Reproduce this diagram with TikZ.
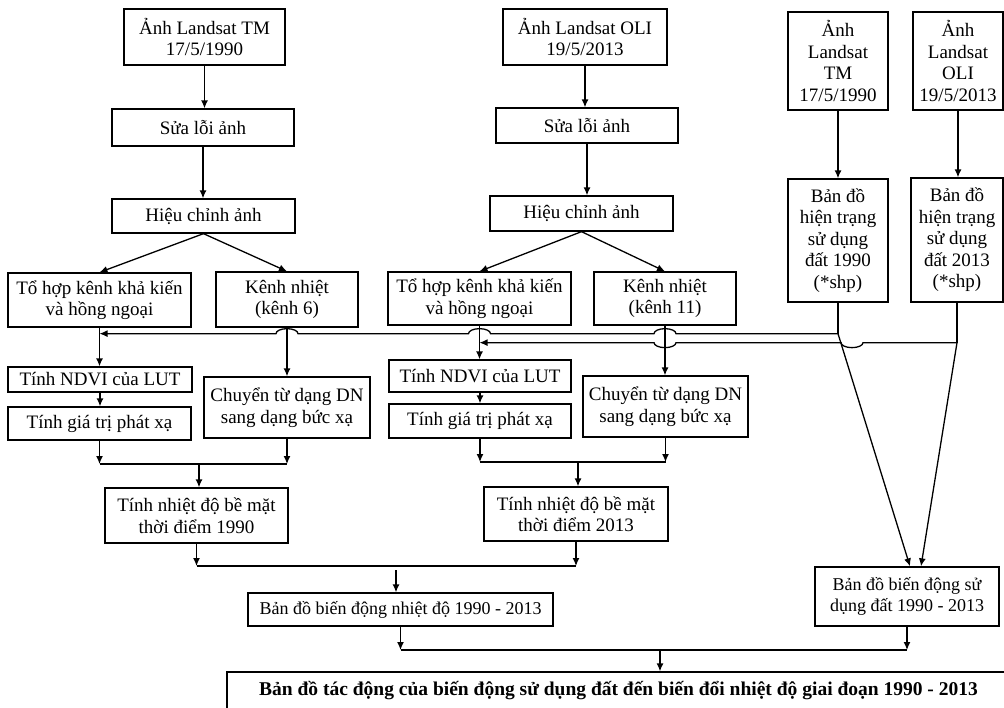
\documentclass[tikz,border=0pt]{standalone}
\usepackage{fontspec}
\setmainfont{Liberation Serif}
\usepackage{tikz}
\usetikzlibrary{calc,arrows.meta}

\begin{document}
\begin{tikzpicture}[x=1pt, y=-1pt, >={Latex[length=8pt,width=7pt]},
    box/.style={draw, line width=1.3pt, align=center, inner sep=1pt, font=\fontsize{19}{21.5}\selectfont},
    link/.style={line width=1.3pt}]
  \path[use as bounding box, clip] (0,0) rectangle (1004,707);
  % Nodes 1990
  \node[box, minimum width=161, minimum height=56] (anh90) at (204.5,37) {Ảnh Landsat TM\\17/5/1990};
  \node[box, minimum width=182, minimum height=37] (sua90) at (203,127.5) {Sửa lỗi ảnh};
  \node[box, minimum width=183, minimum height=34] (hc90) at (203.5,216) {Hiệu chỉnh ảnh};
  \node[box, minimum width=183, minimum height=54] (tohop90) at (99.5,300) {Tổ hợp kênh khả kiến\\và hồng ngoại};
  \node[box, minimum width=142, minimum height=55] (kenh90) at (287,299.5) {Kênh nhiệt\\(kênh 6)};
  \node[box, minimum width=184, minimum height=25] (ndvi90) at (100,379.5) {Tính NDVI của LUT};
  \node[box, minimum width=183, minimum height=33] (phatxa90) at (99.5,423.5) {Tính giá trị phát xạ};
  \node[box, minimum width=166, minimum height=61] (dn90) at (287,407.5) {Chuyển từ dạng DN\\sang dạng bức xạ};
  \node[box, minimum width=183, minimum height=55] (lst90) at (196.5,515.5) {Tính nhiệt độ bề mặt\\thời điểm 1990};
  % Nodes 2013
  \node[box, minimum width=164, minimum height=56] (anh13) at (585,37) {Ảnh Landsat OLI\\19/5/2013};
  \node[box, minimum width=182, minimum height=35] (sua13) at (587,125.5) {Sửa lỗi ảnh};
  \node[box, minimum width=183, minimum height=35] (hc13) at (581.5,213.5) {Hiệu chỉnh ảnh};
  \node[box, minimum width=183, minimum height=53] (tohop13) at (479.5,298.5) {Tổ hợp kênh khả kiến\\và hồng ngoại};
  \node[box, minimum width=142, minimum height=53] (kenh13) at (665,298.5) {Kênh nhiệt\\(kênh 11)};
  \node[box, minimum width=182, minimum height=32] (ndvi13) at (480,376) {Tính NDVI của LUT};
  \node[box, minimum width=182, minimum height=34] (phatxa13) at (480,421) {Tính giá trị phát xạ};
  \node[box, minimum width=165, minimum height=61] (dn13) at (665.5,406.5) {Chuyển từ dạng DN\\sang dạng bức xạ};
  \node[box, minimum width=184, minimum height=54] (lst13) at (576,514) {Tính nhiệt độ bề mặt\\thời điểm 2013};
  % Land use
  \node[box, minimum width=100, minimum height=98] (ls90) at (838,61) {Ảnh\\Landsat\\TM\\17/5/1990};
  \node[box, minimum width=90, minimum height=98] (ls13) at (958,61) {Ảnh\\Landsat\\OLI\\19/5/2013};
  \node[box, minimum width=100, minimum height=123] (ht90) at (838,240.5) {Bản đồ\\hiện trạng\\sử dụng\\đất 1990\\(*shp)};
  \node[box, minimum width=92, minimum height=124] (ht13) at (957,240) {Bản đồ\\hiện trạng\\sử dụng\\đất 2013\\(*shp)};
  % Results
  \node[box, minimum width=305, minimum height=33, font=\fontsize{18}{21}\selectfont] (bdnd) at (400.5,609.5) {Bản đồ biến động nhiệt độ 1990 - 2013};
  \node[box, minimum width=184, minimum height=59, font=\fontsize{18}{21.5}\selectfont] (bdsd) at (907,596.5) {Bản đồ biến động sử\\dụng đất 1990 - 2013};
  \node[box, minimum width=783, minimum height=38, font=\fontsize{19.5}{21}\selectfont\bfseries] (tacdong) at (618.5,691) {Bản đồ tác động của biến động sử dụng đất đến biến đổi nhiệt độ giai đoạn 1990 - 2013};
  % Junctions
  \coordinate (j90) at (199,464);
  \coordinate (j13) at (578,462);
  \coordinate (jt) at (396,566);
  \coordinate (jf) at (660,650);
  \coordinate (c90) at ($(ht90.south)+(0,31)$);
  \coordinate (c13) at ($(ht13.south)+(0,40)$);
  % Straight arrows
  \foreach \a/\b in {anh90/sua90, sua90/hc90, tohop90/ndvi90, ndvi90/phatxa90, kenh90/dn90,
                     anh13/sua13, sua13/hc13, tohop13/ndvi13, ndvi13/phatxa13, kenh13/dn13,
                     ls90/ht90, ls13/ht13}{
    \draw[link, ->] (\a.south) -- (\a.south |- \b.north);
  }
  \draw[link, ->] (hc90.south) -- (tohop90.north);
  \draw[link, ->] (hc90.south) -- (kenh90.north);
  \draw[link, ->] (hc13.south) -- (tohop13.north);
  \draw[link, ->] (hc13.south) -- (kenh13.north);
  % Merge 1990
  \draw[link, ->] (phatxa90.south) -- (phatxa90.south |- j90);
  \draw[link, ->] (dn90.south) -- (dn90.south |- j90);
  \draw[link] (phatxa90.south |- j90) -- (dn90.south |- j90);
  \draw[link, ->] (j90) -- (j90 |- lst90.north);
  % Merge 2013
  \draw[link, ->] (phatxa13.south) -- (phatxa13.south |- j13);
  \draw[link, ->] (dn13.south) -- (dn13.south |- j13);
  \draw[link] (phatxa13.south |- j13) -- (dn13.south |- j13);
  \draw[link, ->] (j13) -- (j13 |- lst13.north);
  % Temperature change
  \draw[link, ->] (lst90.south) -- (lst90.south |- jt);
  \draw[link, ->] (lst13.south) -- (lst13.south |- jt);
  \draw[link] (lst90.south |- jt) -- (lst13.south |- jt);
  \draw[link, ->] ($(jt)+(0,4)$) -- (jt |- bdnd.north);
  % Final
  \draw[link, ->] (bdnd.south) -- (bdnd.south |- jf);
  \draw[link, ->] (bdsd.south) -- (bdsd.south |- jf);
  \draw[link] (bdnd.south |- jf) -- (bdsd.south |- jf);
  \draw[link, ->] (jf) -- (jf |- tacdong.north);
  % Land use to change map
  \draw[link] (ht90.south) -- (c90);
  \draw[link] (ht13.south) -- (c13);
  \draw[link, ->] (c90) -- ($(bdsd.north)+(3,0)$);
  \draw[link, ->] (c13) -- ($(bdsd.north)+(14,0)$);
  % Land use to NDVI (with hops)
  \draw[link, ->] (c90) -- ($(kenh13.south |- c90)+(11,0)$)
    arc[start angle=0, end angle=180, x radius=11pt, y radius=5pt]
    -- ($(tohop13.south |- c90)+(11,0)$)
    arc[start angle=0, end angle=180, x radius=11pt, y radius=5pt]
    -- ($(kenh90.south |- c90)+(11,0)$)
    arc[start angle=0, end angle=180, x radius=11pt, y radius=5pt]
    -- (tohop90.south |- c90);
  \draw[link, ->] (c13) -- ($(852,0 |- c13)+(11,0)$)
    arc[start angle=0, end angle=-180, x radius=11pt, y radius=5pt]
    -- ($(kenh13.south |- c13)+(11,0)$)
    arc[start angle=0, end angle=-180, x radius=11pt, y radius=5pt]
    -- (tohop13.south |- c13);
\end{tikzpicture}
\end{document}
